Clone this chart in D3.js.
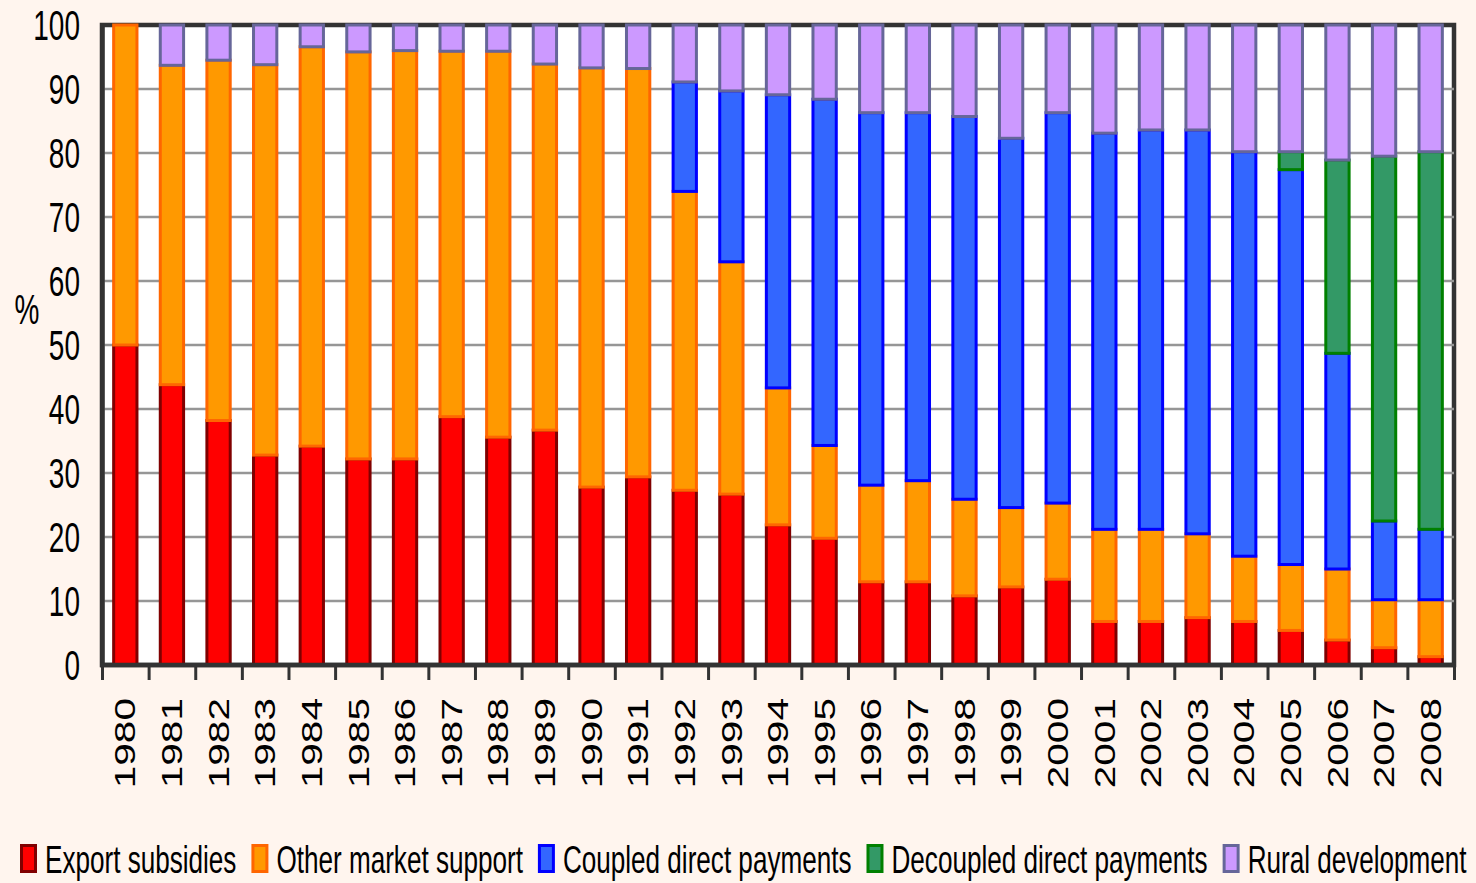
<!DOCTYPE html>
<html>
<head>
<meta charset="utf-8">
<script src="https://d3js.org/d3.v7.min.js"></script>
<style>
  html, body { margin: 0; padding: 0; background: #fff5ee; }
  svg { display: block; font-family: "Liberation Sans", Arial, sans-serif; }
</style>
</head>
<body>
<script>
// tick labels / categories
var years = ['1980','1981','1982','1983','1984','1985','1986','1987','1988','1989',
             '1990','1991','1992','1993','1994','1995','1996','1997','1998','1999',
             '2000','2001','2002','2003','2004','2005','2006','2007','2008'];
var yTicks = [0, 10, 20, 30, 40, 50, 60, 70, 80, 90, 100];

// series values, % of CAP support
var exportSubsidies = [50, 43.8, 38.2, 32.8, 34.2, 32.2, 32.2, 38.8, 35.6, 36.7, 27.8, 29.4, 27.3, 26.7, 21.9,
                       19.8, 13.0, 13.0, 10.8, 12.2, 13.4, 6.8, 6.8, 7.4, 6.8, 5.4, 3.9, 2.7, 1.3];
var otherMarket = [50, 49.9, 56.3, 61.0, 62.4, 63.6, 63.8, 57.1, 60.3, 57.2, 65.5, 63.8, 46.7, 36.3, 21.4,
                   14.5, 15.1, 15.8, 15.1, 12.4, 11.9, 14.4, 14.4, 13.1, 10.2, 10.3, 11.1, 7.5, 8.9];
var coupledDirect = [0, 0, 0, 0, 0, 0, 0, 0, 0, 0, 0, 0, 17.1, 26.7, 45.8,
                     54.1, 58.2, 57.5, 59.8, 57.7, 61.0, 61.9, 62.4, 63.1, 63.2, 61.7, 33.7, 12.3, 11.0];
var decoupledDirect = [0, 0, 0, 0, 0, 0, 0, 0, 0, 0, 0, 0, 0, 0, 0,
                       0, 0, 0, 0, 0, 0, 0, 0, 0, 0, 2.8, 30.2, 57.0, 59.0];
var ruralDev = [0, 6.3, 5.5, 6.2, 3.4, 4.2, 4.0, 4.1, 4.1, 6.1, 6.7, 6.8, 8.9, 10.3, 10.9,
                11.6, 13.7, 13.7, 14.3, 17.7, 13.7, 16.9, 16.4, 16.4, 19.8, 19.8, 21.1, 20.5, 19.8];

var seriesNames = ['Export subsidies', 'Other market support', 'Coupled direct payments',
                   'Decoupled direct payments', 'Rural development'];
var fills   = ['#ff0000', '#ff9900', '#3366ff', '#339966', '#cc99ff'];
var strokes = ['#800000', '#ff6600', '#0000ff', '#008000', '#666699'];

const W = 1476, H = 883;
const mLeft = 102, mRight = 1454, mTop = 25, mBottom = 665;

var svg = d3.select('body').append('svg')
  .attr('width', W).attr('height', H);

svg.append('rect').attr('width', W).attr('height', H).attr('fill', '#fff5ee');

var table = years.map((yr, i) => ({
  year: yr,
  s0: exportSubsidies[i], s1: otherMarket[i], s2: coupledDirect[i],
  s3: decoupledDirect[i], s4: ruralDev[i]
}));
var keys = ['s0', 's1', 's2', 's3', 's4'];
var stacked = d3.stack().keys(keys)(table);

var x = d3.scaleBand().domain(years).range([mLeft, mRight]).paddingInner(0.5).paddingOuter(0.25);
var y = d3.scaleLinear().domain([0, 100]).range([mBottom, mTop]);

// plot area
svg.append('rect')
  .attr('x', mLeft).attr('y', mTop)
  .attr('width', mRight - mLeft).attr('height', mBottom - mTop)
  .attr('fill', '#ffffff').attr('stroke', '#333333').attr('stroke-width', 4.5);

// gridlines
svg.append('g').selectAll('line')
  .data(yTicks.filter(t => t > 0 && t < 100))
  .enter().append('line')
  .attr('x1', mLeft).attr('x2', mRight)
  .attr('y1', d => y(d)).attr('y2', d => y(d))
  .attr('stroke', '#969696').attr('stroke-width', 2.5);

// bars
svg.append('g').selectAll('g')
  .data(stacked).enter().append('g')
  .attr('fill', (d, i) => fills[i])
  .attr('stroke', (d, i) => strokes[i])
  .attr('stroke-width', 3)
  .selectAll('rect')
  .data(d => d.filter(s => s[1] - s[0] > 0))
  .enter().append('rect')
  .attr('x', d => x(d.data.year))
  .attr('width', x.bandwidth())
  .attr('y', d => y(d[1]))
  .attr('height', d => y(d[0]) - y(d[1]));

// y axis labels
var yAxis = svg.append('g')
  .attr('transform', `translate(${mLeft},0)`)
  .call(d3.axisLeft(y).tickValues(yTicks).tickSize(0).tickPadding(22));
yAxis.select('.domain').attr('stroke', '#333333').attr('stroke-width', 4.5);
yAxis.selectAll('text')
  .attr('font-size', 28).attr('fill', '#000')
  .attr('font-family', '"Liberation Sans", Arial, sans-serif')
  .attr('transform', 'scale(1,1.5)')
  .attr('dy', '0.34em');

// x axis: boundary ticks
var xb = d3.scaleLinear().domain([0, years.length]).range([mLeft, mRight]);
var xTicksAxis = svg.append('g')
  .attr('transform', `translate(0,${mBottom})`)
  .call(d3.axisBottom(xb).tickValues(d3.range(years.length + 1))
        .tickSize(15).tickFormat(''));
xTicksAxis.select('.domain').remove();
xTicksAxis.selectAll('line').attr('stroke', '#333333').attr('stroke-width', 3);

// x axis line + labels
var xAxis = svg.append('g')
  .attr('transform', `translate(0,${mBottom})`)
  .call(d3.axisBottom(x).tickSize(0));
xAxis.select('.domain').attr('d', `M${mLeft - 2},0H${mRight + 2}`)
  .attr('stroke', '#333333').attr('stroke-width', 4.5);
xAxis.selectAll('text')
  .attr('font-size', 29).attr('fill', '#000')
  .attr('font-family', '"Liberation Sans", Arial, sans-serif')
  .attr('x', 0).attr('y', 0).attr('dy', '0.35em')
  .attr('text-anchor', 'end')
  .attr('transform', 'translate(0,33) scale(1,1.4) rotate(-90)');

// % label
svg.append('text')
  .attr('transform', 'translate(27,309) scale(1,1.5)')
  .attr('text-anchor', 'middle').attr('dy', '0.35em')
  .attr('font-size', 28).attr('fill', '#000')
  .text('%');

// legend
var legend = svg.append('g');
var lx = 20;
seriesNames.forEach((name, i) => {
  legend.append('rect')
    .attr('x', lx + 1.5).attr('y', 845.5)
    .attr('width', 14).attr('height', 26)
    .attr('fill', fills[i]).attr('stroke', strokes[i]).attr('stroke-width', 3);
  var t = legend.append('text')
    .attr('transform', `translate(${lx + 25},873) scale(1,1.47)`)
    .attr('font-size', 26.1).attr('fill', '#000')
    .text(name);
  lx += 25 + t.node().getComputedTextLength() + 15;
});
</script>
</body>
</html>
